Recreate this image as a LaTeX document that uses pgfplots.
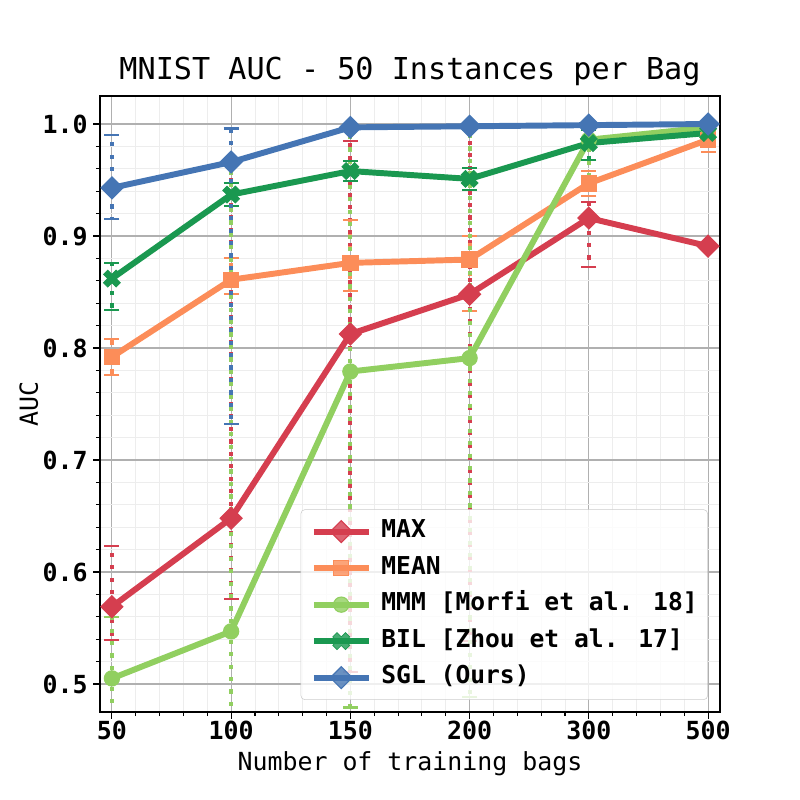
\documentclass[border=0pt]{standalone}
\usepackage{pgfplots}
\pgfplotsset{compat=1.18}
\usepackage{pgfplotstable}
\usepackage{fontspec}
\setmainfont{DejaVu Sans Mono}
\setmonofont{DejaVu Sans Mono}

\definecolor{cmax}{HTML}{D53E4F}
\definecolor{cmean}{HTML}{FC8D59}
\definecolor{cmmm}{HTML}{91CF60}
\definecolor{cbil}{HTML}{1A9850}
\definecolor{csgl}{HTML}{4575B4}

\pgfdeclareplotmark{Xf}{%
  \pgftransformrotate{45}%
  \pgfpathmoveto{\pgfpoint{0.34\pgfplotmarksize}{0.34\pgfplotmarksize}}%
  \pgfpathlineto{\pgfpoint{0.34\pgfplotmarksize}{\pgfplotmarksize}}%
  \pgfpathlineto{\pgfpoint{-0.34\pgfplotmarksize}{\pgfplotmarksize}}%
  \pgfpathlineto{\pgfpoint{-0.34\pgfplotmarksize}{0.34\pgfplotmarksize}}%
  \pgfpathlineto{\pgfpoint{-\pgfplotmarksize}{0.34\pgfplotmarksize}}%
  \pgfpathlineto{\pgfpoint{-\pgfplotmarksize}{-0.34\pgfplotmarksize}}%
  \pgfpathlineto{\pgfpoint{-0.34\pgfplotmarksize}{-0.34\pgfplotmarksize}}%
  \pgfpathlineto{\pgfpoint{-0.34\pgfplotmarksize}{-\pgfplotmarksize}}%
  \pgfpathlineto{\pgfpoint{0.34\pgfplotmarksize}{-\pgfplotmarksize}}%
  \pgfpathlineto{\pgfpoint{0.34\pgfplotmarksize}{-0.34\pgfplotmarksize}}%
  \pgfpathlineto{\pgfpoint{\pgfplotmarksize}{-0.34\pgfplotmarksize}}%
  \pgfpathlineto{\pgfpoint{\pgfplotmarksize}{0.34\pgfplotmarksize}}%
  \pgfpathclose
  \pgfusepathqfillstroke
}

\pgfplotstableread{
x y ep em
0 0.569 0.054 0.030
1 0.648 0.317 0.072
2 0.8125 0.172 0.302
3 0.848 0.151 0.310
4 0.916 0.014 0.044
5 0.891 0 0
}\tmax
\pgfplotstableread{
x y ep em
0 0.792 0.016 0.016
1 0.861 0.019 0.013
2 0.876 0.038 0.025
3 0.879 0.021 0.046
4 0.947 0.011 0.011
5 0.986 0.008 0.011
}\tmean
\pgfplotstableread{
x y ep em
0 0.505 0.055 0.100
1 0.547 0.418 0.418
2 0.779 0.218 0.300
3 0.791 0.204 0.303
4 0.986 0.010 0.045
5 0.997 0.002 0.002
}\tmmm
\pgfplotstableread{
x y ep em
0 0.862 0.014 0.028
1 0.937 0.010 0.010
2 0.958 0.009 0.009
3 0.951 0.010 0.010
4 0.983 0.012 0.015
5 0.992 0.004 0.004
}\tbil
\pgfplotstableread{
x y ep em
0 0.943 0.047 0.028
1 0.966 0.030 0.234
2 0.997 0.002 0.002
3 0.998 0.001 0.001
4 0.999 0.001 0.001
5 1.000 0.001 0.001
}\tsgl

\pgfplotsset{
  myerr/.style={
    line width=4.3pt,
    error bars/y dir=both, error bars/y explicit,
    error bars/error mark=-,
    error bars/error mark options={solid, rotate=90, line width=1.5pt, mark size=5.4pt},
    error bars/error bar style={line width=3pt, dash pattern=on 3pt off 6pt, dash phase=#1},
  },
}

\begin{document}
\begin{tikzpicture}
\begin{axis}[
  at={(0,0)}, anchor=south west,
  scale only axis, width=448.1pt, height=445.2pt,
  xmin=-0.1, xmax=5.1, ymin=0.475, ymax=1.025,
  xtick={0,1,2,3,4,5}, xticklabels={50,100,150,200,300,500},
  ytick={0.5,0.6,0.7,0.8,0.9,1.0}, yticklabels={0.5,0.6,0.7,0.8,0.9,1.0},
  minor x tick num=4, minor y tick num=4,
  grid=both,
  major grid style={color=black!31, line width=0.8pt},
  minor grid style={color=black!7, line width=0.6pt},
  tick align=outside, tick pos=left,
  major tick length=4.8pt, minor tick length=2.9pt,
  every tick/.style={black, line width=0.8pt},
  axis line style={black, line width=0.8pt},
  ticklabel style={font=\bfseries\fontsize{18}{21}\selectfont},
  yticklabel style={anchor=east, inner sep=0pt, xshift=-3.9pt},
  xticklabel style={anchor=base, inner sep=0pt, yshift=-15pt},
  title={MNIST AUC - 50 Instances per Bag},
  title style={at={(axis description cs:0.5,1.013)}, anchor=base, inner sep=0pt, font=\fontsize{21.8}{26}\selectfont},
  xlabel={Number of training bags},
  xlabel style={at={(axis description cs:0.5,-0.0943)}, anchor=base, inner sep=0pt, font=\fontsize{18}{21}\selectfont},
  ylabel={AUC},
  ylabel style={at={(axis description cs:-0.1,0.5)}, anchor=base, rotate=0, inner sep=0pt, font=\fontsize{18}{21}\selectfont},
  legend style={at={(axis description cs:1,0)}, anchor=south east, xshift=-8.7pt, yshift=8.7pt,
    draw=black!20, fill=white, fill opacity=0.8, draw opacity=1, text opacity=1,
    rounded corners=3pt, font=\bfseries\fontsize{17.8}{21}\selectfont,
    inner xsep=7.2pt, inner ysep=7.4pt, row sep=9.4pt, column sep=7pt,
    nodes={inner xsep=0pt, inner ysep=0pt, text height=13pt, text depth=4pt}},
  legend cell align=left,
  legend image code/.code={\draw[mark repeat=2, mark phase=2] plot coordinates {(0pt,0pt) (19.85pt,0pt) (39.7pt,0pt)};},
]
\addplot[cmax, myerr=0pt, mark=square*, mark size=5.6pt, mark options={solid, rotate=45, line width=0.8pt}]
  table[x=x, y=y, y error plus=ep, y error minus=em] {\tmax};
\addlegendentry{MAX}
\addplot[cmean, myerr=0pt, mark=square*, mark size=5.5pt, mark options={solid, line width=0.8pt}]
  table[x=x, y=y, y error plus=ep, y error minus=em] {\tmean};
\addlegendentry{MEAN}
\addplot[cmmm, myerr=3pt, mark=*, mark size=5.5pt, mark options={solid, line width=0.8pt}]
  table[x=x, y=y, y error plus=ep, y error minus=em] {\tmmm};
\addlegendentry{MMM [Morfi et al. 18]}
\addplot[cbil, myerr=0pt, mark=Xf, mark size=6.5pt, mark options={solid, line width=0.5pt}]
  table[x=x, y=y, y error plus=ep, y error minus=em] {\tbil};
\addlegendentry{BIL [Zhou et al. 17]}
\addplot[csgl, myerr=6pt, mark=square*, mark size=5.6pt, mark options={solid, rotate=45, line width=0.8pt}]
  table[x=x, y=y, y error plus=ep, y error minus=em] {\tsgl};
\addlegendentry{SGL (Ours)}
\end{axis}
\pgfresetboundingbox
\path[use as bounding box] (-72.27pt,-63.6pt) rectangle (505.9pt,514.6pt);
\end{tikzpicture}
\end{document}
